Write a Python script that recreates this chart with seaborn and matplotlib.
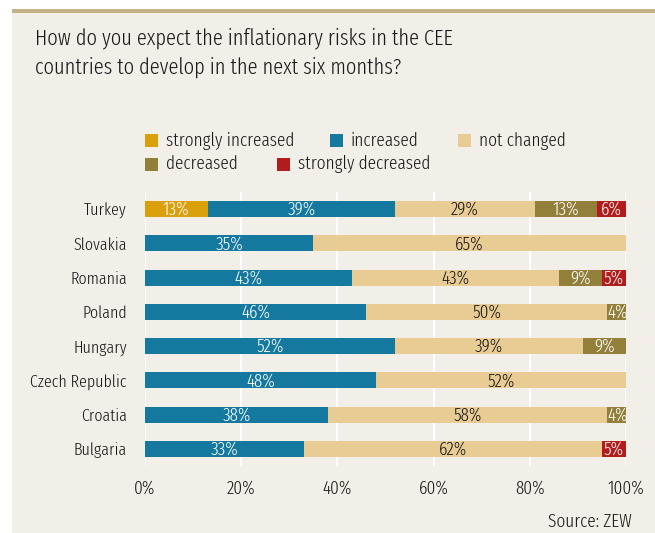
import matplotlib
matplotlib.use("Agg")
import matplotlib.pyplot as plt
from matplotlib.patches import Rectangle
import seaborn as sns
import pandas as pd
import numpy as np

countries = ["Turkey", "Slovakia", "Romania", "Poland", "Hungary",
             "Czech Republic", "Croatia", "Bulgaria"]
series_names = ["strongly increased", "increased", "not changed",
                "decreased", "strongly decreased"]
strongly_increased = [13, 0, 0, 0, 0, 0, 0, 0]
increased = [39, 35, 43, 46, 52, 48, 38, 33]
not_changed = [29, 65, 43, 50, 39, 52, 58, 62]
decreased = [13, 0, 9, 4, 9, 0, 4, 0]
strongly_decreased = [6, 0, 5, 0, 0, 0, 0, 5]
colors = ["#d9a00b", "#14789f", "#e9cc94", "#917f3a", "#b21c1c"]
label_colors = ["white", "white", "#1a1a1a", "white", "white"]
x_ticks = [0, 20, 40, 60, 80, 100]
x_tick_labels = ["0%", "20%", "40%", "60%", "80%", "100%"]
title_lines = ["How do you expect the inflationary risks in the CEE",
               "countries to develop in the next six months?"]

sns.set_theme(style="white")
FONT = ["Fira Sans Extra Condensed", "DejaVu Sans"]
plt.rcParams["font.family"] = FONT
plt.rcParams["font.weight"] = 300
panel = "#f2efe9"
TXT = "#1a1a1a"
FW = 300

fig = plt.figure(figsize=(6.55, 5.33), dpi=100)
fig.patch.set_facecolor("white")
W, H = 655, 533
fig.patches.append(Rectangle((12 / W, 0), (W - 12) / W, (H - 9) / H,
                             transform=fig.transFigure, facecolor=panel,
                             edgecolor="none", zorder=-10))
fig.patches.append(Rectangle((12 / W, (H - 13) / H), (W - 12) / W, 4 / H,
                             transform=fig.transFigure, facecolor="#c4b38a",
                             edgecolor="none", zorder=-9))

ax = fig.add_axes([145 / W, (H - 466) / H, (626 - 145) / W, (466 - 192) / H])
ax.set_facecolor(panel)

series = [strongly_increased, increased, not_changed, decreased, strongly_decreased]
arr = np.array(series, dtype=float)
cum = np.cumsum(arr, axis=0)

for i in range(len(series) - 1, -1, -1):
    df = pd.DataFrame({"country": countries, "value": cum[i]})
    sns.barplot(data=df, x="value", y="country", orient="h", color=colors[i],
                saturation=1, width=0.47, ax=ax, zorder=3, edgecolor="none",
                linewidth=0)

for i in range(len(series)):
    for j, c in enumerate(countries):
        v = arr[i, j]
        if v <= 0:
            continue
        xc = cum[i, j] - v / 2
        if v < 5:
            xc = cum[i, j] - v / 2 + 0.3
        ax.text(xc, j + 0.02, f"{int(v)}%", ha="center", va="center",
                color=label_colors[i], fontsize=13.5, zorder=5, family=FONT,
                weight=FW)

ax.set_xlim(0, 100)
ax.set_ylim(7.5, -0.5)
ax.set_xticks(x_ticks)
ax.set_xticklabels(x_tick_labels, fontsize=13.5, color=TXT, weight=FW)
ax.set_yticks(range(len(countries)))
ax.set_yticklabels(countries, fontsize=12.5, color=TXT, weight=FW)
ax.tick_params(axis="x", length=6, width=1.5, color="white", pad=4)
ax.tick_params(axis="y", length=0, pad=13)
ax.set_xlabel("")
ax.set_ylabel("")
ax.grid(axis="x", color="white", linewidth=1.5, zorder=0)
ax.set_axisbelow(True)
for s in ax.spines.values():
    s.set_visible(False)

for k, line in enumerate(title_lines):
    fig.text(35 / W, 1 - (38 + 29 * k) / H, line, ha="left", va="center",
             fontsize=16, color=TXT, family=FONT, weight=FW)

sq = 13
legend_pos = [(145, 141), (330, 141), (458, 141), (145, 164), (277, 164)]
for (lx, ly), name, col in zip(legend_pos, series_names, colors):
    fig.patches.append(Rectangle((lx / W, 1 - (ly + sq / 2) / H), sq / W, sq / H,
                                 transform=fig.transFigure, facecolor=col,
                                 edgecolor="none"))
    fig.text((lx + sq + 8) / W, 1 - ly / H, name, ha="left", va="center",
             fontsize=13.5, color=TXT, family=FONT, weight=FW)

fig.text(632 / W, 1 - 522 / H, "Source: ZEW", ha="right", va="center",
         fontsize=13.5, color=TXT, family=FONT, weight=FW)

fig.savefig("out.png", dpi=100, facecolor="white")
